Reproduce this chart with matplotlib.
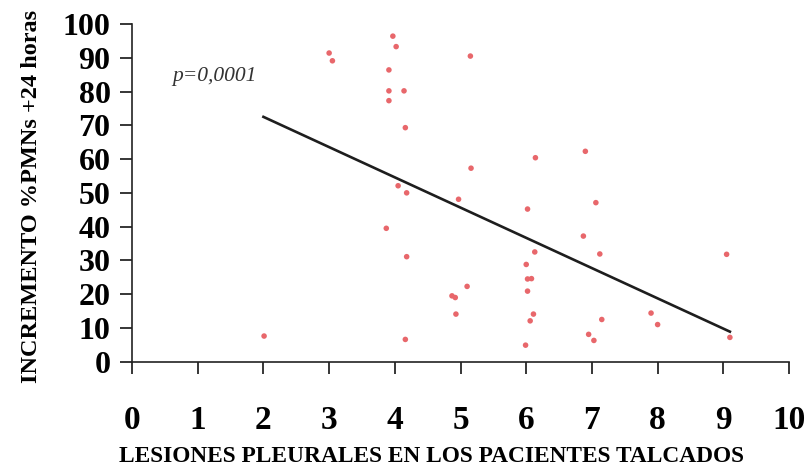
import matplotlib
matplotlib.use("Agg")
import matplotlib.pyplot as plt
import numpy as np

plt.rcParams["font.family"] = ["Liberation Serif", "DejaVu Serif"]

# lesiones pleurales (con ligero desplazamiento) e incremento %PMNs a las 24 h
lesiones = [3.00, 3.05, 3.97, 4.02, 5.15, 3.91, 3.91, 4.14, 3.91, 4.16,
            5.16, 4.05, 4.18, 4.97, 6.02, 3.87, 4.18, 6.14, 6.90, 7.06,
            6.87, 6.13, 7.12, 9.05, 6.00, 6.02, 6.08, 5.10, 4.87, 4.92,
            6.02, 4.93, 6.11, 6.06, 7.15, 7.90, 8.00, 6.95, 7.03, 9.10,
            2.01, 4.16, 5.99]
incremento = [91.4, 89.1, 96.4, 93.3, 90.5, 86.4, 80.2, 80.2, 77.3, 69.3,
              57.3, 52.1, 50.0, 48.1, 45.2, 39.5, 31.1, 60.4, 62.3, 47.1,
              37.2, 32.5, 31.9, 31.8, 28.8, 24.5, 24.6, 22.3, 19.5, 19.0,
              20.9, 14.1, 14.1, 12.1, 12.5, 14.4, 11.0, 8.1, 6.3, 7.2,
              7.6, 6.6, 4.9]

# recta de regresion
recta_x = [2.0, 9.1]
recta_y = [72.5, 8.9]

x_ticks = list(range(0, 11))
y_ticks = list(range(0, 101, 10))

fig = plt.figure(figsize=(8.12, 4.74), dpi=100)
ax = fig.add_axes([0.1626, 0.2369, 0.8091, 0.7125])

ax.scatter(lesiones, incremento, s=16, color="#e8676b", edgecolors="none",
           clip_on=False, zorder=3)
ax.plot(recta_x, recta_y, color="#1e1e1e", linewidth=1.9, zorder=2)

ax.set_xlim(0, 10)
ax.set_ylim(0, 100)
ax.set_xticks(x_ticks)
ax.set_yticks(y_ticks)
ax.set_xticklabels([str(v) for v in x_ticks], fontsize=24, fontweight="bold")
ax.set_yticklabels([str(v) for v in y_ticks], fontsize=23, fontweight="bold")
ax.tick_params(axis="x", direction="out", length=8.5, width=1.1, pad=23)
ax.tick_params(axis="y", direction="out", length=8.5, width=1.1, pad=7)

for side in ("top", "right"):
    ax.spines[side].set_visible(False)
for side in ("left", "bottom"):
    ax.spines[side].set_linewidth(1.2)
    ax.spines[side].set_color("#222222")

ax.text(0.62, 84.5, "p=0,0001", fontsize=15.5, style="italic", color="#333333",
        ha="left", va="center")

fig.text(0.039, 0.585, "INCREMENTO %PMNs +24 horas", rotation=90,
         fontsize=17.5, fontweight="bold", ha="center", va="center")
fig.text(0.532, 0.036, "LESIONES PLEURALES EN LOS PACIENTES TALCADOS",
         fontsize=16.8, fontweight="bold", ha="center", va="center")

fig.savefig("out.png", dpi=100)
